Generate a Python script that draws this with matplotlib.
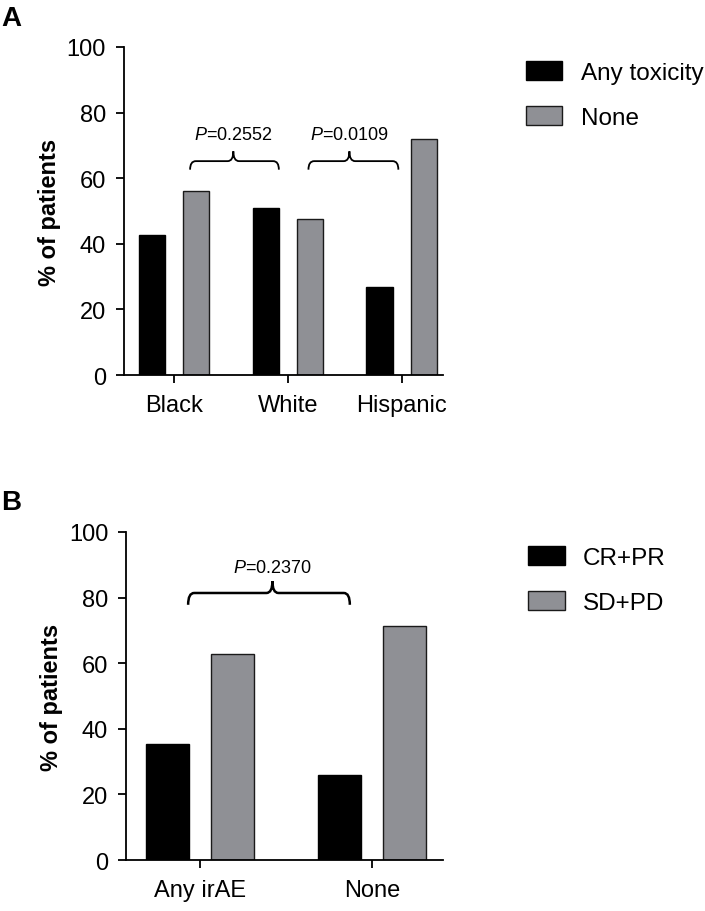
import matplotlib
matplotlib.use("Agg")
import matplotlib.pyplot as plt
from matplotlib.path import Path
from matplotlib.patches import PathPatch, Patch

plt.rcParams['font.family'] = ['Liberation Sans', 'DejaVu Sans']
plt.rcParams['mathtext.fontset'] = 'custom'
plt.rcParams['mathtext.rm'] = 'Liberation Sans'
plt.rcParams['mathtext.it'] = 'Liberation Sans:italic'

# ---- data ----
groups_a = ["Black", "White", "Hispanic"]
any_tox = [42.7, 50.9, 26.8]
none_tox = [56.1, 47.5, 72.0]
legend_a = ["Any toxicity", "None"]
pvals_a = ["0.2552", "0.0109"]

groups_b = ["Any irAE", "None"]
cr_pr = [35.4, 25.9]
sd_pd = [62.8, 71.3]
legend_b = ["CR+PR", "SD+PD"]
pvals_b = ["0.2370"]

yticks = [0, 20, 40, 60, 80, 100]

BLACK = "#000000"
GRAY = "#8f9095"
EDGE = "#1a1a1a"

fig = plt.figure(figsize=(7.05, 9.12), dpi=100)
axA = fig.add_axes([0.176, 0.5877, 0.452, 0.3597])
axB = fig.add_axes([0.179, 0.0559, 0.449, 0.3597])


def brace(ax, x0, x1, xm, y, drop, peak, rx, lw=1.3):
    verts = [(x0, y - drop), (x0, y), (x0 + rx, y),
             (xm - rx, y), (xm, y), (xm, y + peak),
             (xm, y), (xm + rx, y),
             (x1 - rx, y), (x1, y), (x1, y - drop)]
    codes = [Path.MOVETO, Path.CURVE3, Path.CURVE3,
             Path.LINETO, Path.CURVE3, Path.CURVE3,
             Path.CURVE3, Path.CURVE3,
             Path.LINETO, Path.CURVE3, Path.CURVE3]
    ax.add_patch(PathPatch(Path(verts, codes), fill=False, lw=lw,
                           edgecolor="black", capstyle="butt"))


def style(ax, xlim, labels):
    ax.set_ylim(0, 100)
    ax.set_xlim(*xlim)
    ax.set_yticks(yticks)
    ax.set_xticks(range(len(labels)))
    ax.set_xticklabels(labels)
    for s in ["top", "right"]:
        ax.spines[s].set_visible(False)
    for s in ["left", "bottom"]:
        ax.spines[s].set_linewidth(1.3)
    ax.tick_params(axis="both", labelsize=17, width=1.3, length=6, direction="out")
    ax.tick_params(axis="y", pad=7)
    ax.tick_params(axis="x", pad=8)
    ax.set_ylabel("% of patients", fontsize=17, fontweight="bold", labelpad=4)


# ---- Panel A ----
xa = range(len(groups_a))
wa, oa = 0.23, 0.195
axA.bar([x - oa for x in xa], any_tox, wa, color=BLACK, edgecolor="black", linewidth=1.0, label=legend_a[0])
axA.bar([x + oa for x in xa], none_tox, wa, color=GRAY, edgecolor=EDGE, linewidth=1.0, label=legend_a[1])
style(axA, (-0.44, 2.36), groups_a)
brace(axA, 0.14, 0.92, 0.52, 65.2, 2.6, 3.0, 0.05)
brace(axA, 1.18, 1.97, 1.54, 65.2, 2.6, 3.0, 0.05)
axA.text(0.52, 70.6, r"$\it{P}$=" + pvals_a[0], ha="center", va="bottom", fontsize=13)
axA.text(1.54, 70.6, r"$\it{P}$=" + pvals_a[1], ha="center", va="bottom", fontsize=13)

leg_kw = dict(loc="upper left", frameon=False, fontsize=17.5, handlelength=1.5,
              handleheight=0.82, labelspacing=0.9, handletextpad=0.75,
              borderaxespad=0, borderpad=0)
hA = [Patch(facecolor=BLACK, edgecolor="black", linewidth=1.0),
      Patch(facecolor=GRAY, edgecolor=EDGE, linewidth=1.0)]
fig.legend(hA, legend_a, bbox_to_anchor=(0.746, 0.932), **leg_kw)

# ---- Panel B ----
xb = range(len(groups_b))
wb, ob = 0.25, 0.19
axB.bar([x - ob for x in xb], cr_pr, wb, color=BLACK, edgecolor="black", linewidth=1.0)
axB.bar([x + ob for x in xb], sd_pd, wb, color=GRAY, edgecolor=EDGE, linewidth=1.0)
style(axB, (-0.43, 1.41), groups_b)
brace(axB, -0.07, 0.87, 0.42, 81.4, 3.6, 3.6, 0.035, lw=1.8)
axB.text(0.42, 86.5, r"$\it{P}$=" + pvals_b[0], ha="center", va="bottom", fontsize=13)

hB = [Patch(facecolor=BLACK, edgecolor="black", linewidth=1.0),
      Patch(facecolor=GRAY, edgecolor=EDGE, linewidth=1.0)]
fig.legend(hB, legend_b, bbox_to_anchor=(0.749, 0.4002), **leg_kw)

fig.text(0.002, 0.9797, "A", fontsize=20, fontweight="bold", ha="left", va="center")
fig.text(0.002, 0.4485, "B", fontsize=20, fontweight="bold", ha="left", va="center")

fig.savefig("out.png", dpi=100)
